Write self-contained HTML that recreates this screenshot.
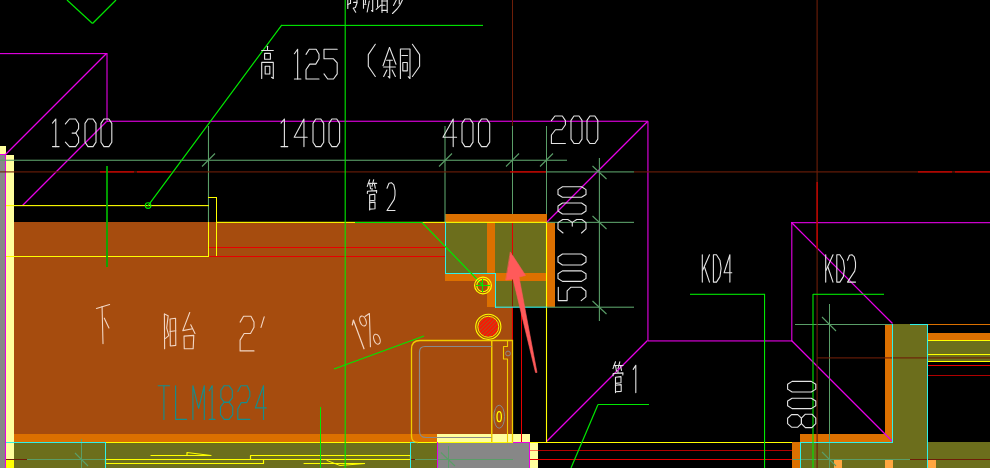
<!DOCTYPE html>
<html><head><meta charset="utf-8"><title>CAD</title>
<style>html,body{margin:0;padding:0;background:#000;width:990px;height:468px;overflow:hidden}
svg{display:block}</style></head>
<body><svg width="990" height="468" viewBox="0 0 990 468">
<rect x="0" y="0" width="990" height="468" fill="#000000"/>
<rect x="14" y="222" width="498" height="212" fill="#a64c0e"/>
<rect x="14" y="434" width="423" height="8" fill="#dc7000"/>
<rect x="437" y="434" width="93" height="8" fill="#ffff9e"/>
<rect x="14" y="442" width="423" height="26" fill="#6c6e1c"/>
<rect x="437" y="442" width="93" height="26" fill="#878787"/>
<rect x="530" y="442" width="8" height="26" fill="#ffff9e"/>
<rect x="0" y="155" width="5" height="313" fill="#878787"/>
<rect x="6" y="155" width="8" height="304" fill="#ffff9e"/>
<rect x="6" y="459" width="8" height="9" fill="#ffff00"/>
<rect x="0" y="146" width="6" height="8" fill="#ffff9e"/>
<rect x="5" y="154" width="1" height="314" fill="#e600e6"/>
<rect x="0" y="154" width="6" height="1" fill="#e600e6"/>
<rect x="445" y="214" width="102" height="8" fill="#dc7000"/>
<rect x="445" y="222" width="42" height="51" fill="#6c6e1c"/>
<rect x="495" y="222" width="52" height="85" fill="#6c6e1c"/>
<rect x="487" y="222" width="8" height="85" fill="#dc7000"/>
<rect x="445" y="273" width="102" height="8" fill="#dc7000"/>
<rect x="547" y="222" width="8" height="85" fill="#dc7000"/>
<rect x="885" y="324" width="8" height="118" fill="#dc7000"/>
<rect x="800" y="434" width="93" height="8" fill="#dc7000"/>
<rect x="893" y="324" width="34" height="144" fill="#6c6e1c"/>
<rect x="800" y="442" width="93" height="26" fill="#6c6e1c"/>
<rect x="792" y="442" width="8" height="26" fill="#dc7000"/>
<rect x="927" y="442" width="63" height="26" fill="#6c6e1c"/>
<rect x="927" y="333" width="63" height="8" fill="#dc7000"/>
<rect x="927" y="341" width="63" height="21" fill="#6c6e1c"/>
<rect x="834" y="460" width="8" height="8" fill="#ffa640"/>
<rect x="885" y="460" width="8" height="8" fill="#ffa640"/>
<rect x="928" y="460" width="8" height="8" fill="#ffa640"/>
<line x1="67" y1="0" x2="92.5" y2="23.5" stroke="#00e800" stroke-width="1.2"/>
<line x1="92.5" y1="23.5" x2="116" y2="0" stroke="#00e800" stroke-width="1.2"/>
<rect x="0" y="53.05" width="107" height="1.1" fill="#e600e6"/>
<rect x="106.45" y="53" width="1.1" height="69" fill="#e600e6"/>
<rect x="107" y="120.7" width="541" height="1.1" fill="#e600e6"/>
<line x1="106.5" y1="53.5" x2="5.5" y2="154.5" stroke="#e600e6" stroke-width="1.2"/>
<line x1="106.5" y1="121.5" x2="22.5" y2="205.5" stroke="#e600e6" stroke-width="1.2"/>
<rect x="647.38" y="121" width="1.1" height="220" fill="#e600e6"/>
<line x1="647.5" y1="121.5" x2="546.5" y2="222.5" stroke="#e600e6" stroke-width="1.2"/>
<rect x="648" y="340.38" width="144" height="1.1" fill="#e600e6"/>
<line x1="647.5" y1="340.5" x2="546.5" y2="441.5" stroke="#e600e6" stroke-width="1.2"/>
<rect x="791.25" y="222" width="1.1" height="119" fill="#e600e6"/>
<rect x="791" y="222.12" width="199" height="1.1" fill="#e600e6"/>
<line x1="791.5" y1="222.5" x2="892.5" y2="323.5" stroke="#e600e6" stroke-width="1.2"/>
<line x1="791.5" y1="340.5" x2="892.5" y2="441.5" stroke="#e600e6" stroke-width="1.2"/>
<rect x="0" y="159.71" width="567" height="1.1" fill="#5a9e68"/>
<rect x="207.93" y="126" width="1.1" height="96" fill="#5a9e68"/>
<rect x="444.45" y="126" width="1.1" height="96" fill="#5a9e68"/>
<rect x="512" y="126" width="1" height="88" fill="#5a9e68"/>
<rect x="546" y="126" width="1" height="88" fill="#5a9e68"/>
<line x1="202" y1="166.5" x2="215" y2="153.5" stroke="#5a9e68" stroke-width="1.1"/>
<line x1="439" y1="166.5" x2="452" y2="153.5" stroke="#5a9e68" stroke-width="1.1"/>
<line x1="506" y1="166.5" x2="519" y2="153.5" stroke="#5a9e68" stroke-width="1.1"/>
<line x1="540" y1="166.5" x2="553" y2="153.5" stroke="#5a9e68" stroke-width="1.1"/>
<rect x="546" y="171.35" width="88" height="1.1" fill="#5a9e68"/>
<rect x="546" y="221.81" width="88" height="1.1" fill="#5a9e68"/>
<rect x="546" y="306.65" width="88" height="1.1" fill="#5a9e68"/>
<rect x="598.85" y="158" width="1.1" height="163" fill="#5a9e68"/>
<line x1="592.5" y1="166" x2="606.5" y2="179" stroke="#5a9e68" stroke-width="1.1"/>
<line x1="592.5" y1="216" x2="606.5" y2="229" stroke="#5a9e68" stroke-width="1.1"/>
<line x1="592.5" y1="301" x2="606.5" y2="314" stroke="#5a9e68" stroke-width="1.1"/>
<rect x="795" y="324" width="98" height="1" fill="#5a9e68"/>
<rect x="829" y="304" width="1" height="164" fill="#5a9e68"/>
<line x1="822" y1="317" x2="836" y2="331" stroke="#5a9e68" stroke-width="1.1"/>
<line x1="822" y1="452" x2="836" y2="466" stroke="#5a9e68" stroke-width="1.1"/>
<rect x="27" y="459" width="79" height="1" fill="#5a9e68"/>
<rect x="6" y="459" width="21" height="1" fill="#6e1e08"/>
<rect x="81" y="439" width="1" height="29" fill="#5a9e68"/>
<line x1="75" y1="453" x2="88" y2="466" stroke="#5a9e68" stroke-width="1.1"/>
<rect x="415" y="459" width="98" height="1" fill="#5a9e68"/>
<rect x="410" y="459" width="5" height="1" fill="#6e1e08"/>
<rect x="448" y="446" width="1" height="22" fill="#5a9e68"/>
<line x1="441" y1="452.5" x2="455" y2="466" stroke="#5a9e68" stroke-width="1.1"/>
<rect x="792" y="459" width="118" height="1" fill="#5a9e68"/>
<rect x="910" y="459" width="80" height="1" fill="#6e1e08"/>
<rect x="0" y="171.35" width="546" height="1.1" fill="#6e1e08"/>
<rect x="100" y="171.35" width="34" height="1.1" fill="#e80000"/>
<rect x="137" y="171.35" width="34" height="1.1" fill="#e80000"/>
<rect x="510" y="171.35" width="36" height="1.1" fill="#e80000"/>
<rect x="634" y="171.35" width="356" height="1.1" fill="#6e1e08"/>
<rect x="918" y="171.35" width="34" height="1.1" fill="#e80000"/>
<rect x="955" y="171.35" width="35" height="1.1" fill="#e80000"/>
<rect x="512" y="0" width="1" height="126" fill="#6e1e08"/>
<rect x="816.55" y="0" width="1.1" height="468" fill="#6e1e08"/>
<rect x="816.55" y="182" width="1.1" height="67" fill="#e80000"/>
<rect x="512" y="222" width="1" height="32" fill="#e80000"/>
<rect x="512" y="254" width="1" height="52" fill="#8a1a00"/>
<rect x="512" y="306" width="1" height="136" fill="#e80000"/>
<rect x="521" y="306" width="1" height="136" fill="#e80000"/>
<rect x="208" y="247" width="237" height="1" fill="#e80000"/>
<rect x="208" y="256" width="237" height="1" fill="#e80000"/>
<rect x="538" y="450" width="254" height="1" fill="#b00000"/>
<rect x="530" y="450" width="8" height="1" fill="#ff7a50"/>
<rect x="530" y="459" width="262" height="1" fill="#e80000"/>
<rect x="817" y="357.35" width="173" height="1.1" fill="#6e1e08"/>
<rect x="927" y="365" width="63" height="1" fill="#e80000"/>
<rect x="927" y="375" width="63" height="1" fill="#b00000"/>
<rect x="927" y="324" width="63" height="1" fill="#dc7000"/>
<rect x="6" y="205.05" width="203" height="1.1" fill="#ffff00"/>
<rect x="208" y="222" width="1" height="34" fill="#ffff00"/>
<rect x="208" y="197" width="9" height="1" fill="#ffff00"/>
<rect x="216" y="197" width="1" height="59" fill="#ffff00"/>
<rect x="216" y="221.81" width="331" height="1.1" fill="#ffff00"/>
<rect x="6" y="256" width="203" height="1" fill="#ffff00"/>
<rect x="545.95" y="222" width="1.1" height="221" fill="#ffff00"/>
<rect x="105" y="442" width="408" height="1" fill="#ffff00"/>
<rect x="530" y="442" width="262" height="1" fill="#ffff00"/>
<rect x="927" y="340" width="63" height="1" fill="#ffff00"/>
<rect x="927" y="354" width="63" height="1" fill="#ffff00"/>
<rect x="927" y="361" width="63" height="1" fill="#ffff00"/>
<polyline points="105.5,459.5 263.5,459.5 263.5,463.5 105.5,463.5 105.5,459.5" fill="none" stroke="#ffff00" stroke-width="1.2" stroke-linejoin="round" stroke-linecap="round"/>
<polyline points="250.5,459.5 250.5,455.5 410.5,455.5 410.5,459.5 250.5,459.5" fill="none" stroke="#ffff00" stroke-width="1.2" stroke-linejoin="round" stroke-linecap="round"/>
<polyline points="151,455.5 211,455.5 187,452.5 187,455.5" fill="none" stroke="#ffff00" stroke-width="1.2" stroke-linejoin="round" stroke-linecap="round"/>
<polyline points="304,463.5 365,463.5 340,465.5 327,460.5" fill="none" stroke="#ffff00" stroke-width="1" stroke-linejoin="round" stroke-linecap="round"/>
<rect x="6" y="442" width="100" height="1" fill="#30f0e8"/>
<rect x="105" y="442" width="1" height="26" fill="#30f0e8"/>
<rect x="445" y="222" width="1" height="52" fill="#30f0e8"/>
<rect x="445" y="273" width="51" height="1" fill="#30f0e8"/>
<rect x="495" y="273" width="1" height="35" fill="#30f0e8"/>
<rect x="495" y="306.65" width="52" height="1.1" fill="#30f0e8"/>
<rect x="410" y="442" width="1" height="26" fill="#30f0e8"/>
<rect x="410" y="442" width="6" height="1" fill="#30f0e8"/>
<rect x="892" y="324" width="1" height="119" fill="#30f0e8"/>
<rect x="927" y="324" width="1" height="144" fill="#30f0e8"/>
<rect x="910" y="324" width="18" height="1" fill="#30f0e8"/>
<rect x="800" y="442" width="93" height="1" fill="#30f0e8"/>
<rect x="800" y="442" width="1" height="26" fill="#30f0e8"/>
<rect x="437" y="442" width="1" height="26" fill="#e600e6"/>
<rect x="513" y="442" width="17" height="1" fill="#e600e6"/>
<rect x="529" y="442" width="1" height="26" fill="#e600e6"/>
<rect x="344.65" y="0" width="1.1" height="468" fill="#00e800"/>
<rect x="281" y="24.85" width="202" height="1.1" fill="#00e800"/>
<polyline points="281.5,25.4 148.1,205.6" fill="none" stroke="#00e800" stroke-width="1.2" stroke-linejoin="round" stroke-linecap="round"/>
<circle cx="148.1" cy="205.6" r="2.8" fill="none" stroke="#00e800" stroke-width="1.1"/>
<rect x="106.12" y="166" width="1.76" height="101" fill="#00b000"/>
<rect x="355" y="222" width="67" height="1" fill="#00e800"/>
<line x1="422" y1="222.5" x2="483" y2="285.5" stroke="#00e800" stroke-width="1.2"/>
<line x1="334" y1="369" x2="424" y2="336" stroke="#00e800" stroke-width="1.2"/>
<rect x="320" y="407" width="1" height="61" fill="#00e800"/>
<rect x="690" y="293.75" width="75" height="1.1" fill="#00e800"/>
<rect x="764" y="294" width="1.1" height="174" fill="#00e800"/>
<rect x="813" y="293.75" width="71" height="1.1" fill="#00e800"/>
<rect x="812.45" y="294" width="1.1" height="174" fill="#00e800"/>
<rect x="598" y="404" width="51" height="1" fill="#00e800"/>
<line x1="598" y1="404.5" x2="571" y2="468" stroke="#00e800" stroke-width="1.2"/>
<circle cx="483" cy="285.5" r="8.4" fill="none" stroke="#ffff00" stroke-width="1.2"/>
<circle cx="483" cy="285.5" r="6.2" fill="none" stroke="#ffff00" stroke-width="1.1"/>
<rect x="476" y="285" width="14" height="1" fill="#00e800"/>
<rect x="482" y="279" width="1" height="13" fill="#00e800"/>
<defs><pattern id="h" width="2.7" height="2.7" patternUnits="userSpaceOnUse" patternTransform="rotate(45)"><rect width="2.7" height="2.7" fill="#ff1400"/><rect width="1.0" height="2.7" fill="#b05020"/></pattern></defs>
<circle cx="488.3" cy="326.8" r="10.2" fill="url(#h)" stroke="none" stroke-width="0"/>
<circle cx="488.3" cy="326.8" r="12.6" fill="none" stroke="#ffff00" stroke-width="1.1"/>
<circle cx="488.3" cy="326.8" r="10.5" fill="none" stroke="#ffff00" stroke-width="0.9"/>
<path d="M418,442.5 Q411.5,442.5 411.5,436 V349 Q411.5,340.5 420,340.5 H512.5 V442" fill="none" stroke="#f0cc00" stroke-width="1.3"/>
<rect x="491" y="341" width="1.5" height="101" fill="#f0cc00"/>
<polyline points="507.5,340.5 507.5,346.5 503.5,346.5 503.5,359 507.5,359 507.5,442" fill="none" stroke="#f0cc00" stroke-width="1.1" stroke-linejoin="round" stroke-linecap="round"/>
<path d="M491.5,437.5 H426 Q419.5,437.5 419.5,431 V352 Q419.5,346.5 425,346.5 H491.5" fill="none" stroke="#8a8a8a" stroke-width="1.2"/>
<circle cx="508" cy="353.5" r="2.4" fill="none" stroke="#8a8a8a" stroke-width="1"/>
<ellipse cx="499.2" cy="416.7" rx="5.3" ry="11.5" fill="none" stroke="#8a8a8a" stroke-width="1"/>
<ellipse cx="499.2" cy="416.7" rx="2.2" ry="5" fill="none" stroke="#ffff00" stroke-width="1.3"/>
<polygon points="510.5,252.2 525.6,275.4 519,277 537,372.5 535.5,372.5 513,279 506,280" fill="#ff5a5a" stroke="#ff5a5a" stroke-width="0.6" stroke-linejoin="round" stroke-linecap="round"/>
<polyline points="347.8,0 347.8,8.5" fill="none" stroke="#e4e4e4" stroke-width="1.1" stroke-linejoin="round" stroke-linecap="round"/>
<polyline points="347.8,4.5 350.5,3.3" fill="none" stroke="#e4e4e4" stroke-width="1.1" stroke-linejoin="round" stroke-linecap="round"/>
<polyline points="350.5,0 350.5,3.5" fill="none" stroke="#e4e4e4" stroke-width="1.1" stroke-linejoin="round" stroke-linecap="round"/>
<polyline points="353.6,2.4 357,2.4 357,0" fill="none" stroke="#e4e4e4" stroke-width="1.1" stroke-linejoin="round" stroke-linecap="round"/>
<polyline points="357,3 355.4,7.5 353.3,8.2" fill="none" stroke="#e4e4e4" stroke-width="1.1" stroke-linejoin="round" stroke-linecap="round"/>
<polyline points="353.3,8.2 355.7,12.2" fill="none" stroke="#e4e4e4" stroke-width="1.1" stroke-linejoin="round" stroke-linecap="round"/>
<polyline points="363.5,0 363.5,8.2" fill="none" stroke="#e4e4e4" stroke-width="1.1" stroke-linejoin="round" stroke-linecap="round"/>
<polyline points="363.5,4.3 366,4.3" fill="none" stroke="#e4e4e4" stroke-width="1.1" stroke-linejoin="round" stroke-linecap="round"/>
<polyline points="365.5,0 365.5,3" fill="none" stroke="#e4e4e4" stroke-width="1.1" stroke-linejoin="round" stroke-linecap="round"/>
<polyline points="369.3,1 367.2,12" fill="none" stroke="#e4e4e4" stroke-width="1.1" stroke-linejoin="round" stroke-linecap="round"/>
<polyline points="372.7,0 372.7,11.5 371.5,10.5" fill="none" stroke="#e4e4e4" stroke-width="1.1" stroke-linejoin="round" stroke-linecap="round"/>
<polyline points="377.6,0 377.6,7" fill="none" stroke="#e4e4e4" stroke-width="1.1" stroke-linejoin="round" stroke-linecap="round"/>
<polyline points="376.2,9.4 380.8,5.2 385,5.2" fill="none" stroke="#e4e4e4" stroke-width="1.1" stroke-linejoin="round" stroke-linecap="round"/>
<polyline points="382,0 382,12.5" fill="none" stroke="#e4e4e4" stroke-width="1.1" stroke-linejoin="round" stroke-linecap="round"/>
<polyline points="387.2,0 387.2,12.5" fill="none" stroke="#e4e4e4" stroke-width="1.1" stroke-linejoin="round" stroke-linecap="round"/>
<polyline points="382,1 387,1" fill="none" stroke="#e4e4e4" stroke-width="1.1" stroke-linejoin="round" stroke-linecap="round"/>
<polyline points="382,10.4 386.8,10.4" fill="none" stroke="#e4e4e4" stroke-width="1.1" stroke-linejoin="round" stroke-linecap="round"/>
<polyline points="396.3,0 393.5,5.5" fill="none" stroke="#e4e4e4" stroke-width="1.1" stroke-linejoin="round" stroke-linecap="round"/>
<polyline points="399.3,0 399.3,4" fill="none" stroke="#e4e4e4" stroke-width="1.1" stroke-linejoin="round" stroke-linecap="round"/>
<polyline points="402.4,0 400,5 397,9 392.5,13.5" fill="none" stroke="#e4e4e4" stroke-width="1.1" stroke-linejoin="round" stroke-linecap="round"/>
<polyline points="267.5,46.3 267.5,49.52" fill="none" stroke="#e4e4e4" stroke-width="1.1" stroke-linejoin="round" stroke-linecap="round"/>
<polyline points="261.7,50.49 273.3,50.49" fill="none" stroke="#e4e4e4" stroke-width="1.1" stroke-linejoin="round" stroke-linecap="round"/>
<polyline points="264.6,53.38 270.4,53.38 270.4,59.18 264.6,59.18 264.6,53.38" fill="none" stroke="#e4e4e4" stroke-width="1.1" stroke-linejoin="round" stroke-linecap="round"/>
<polyline points="261.7,78.5 261.7,62.4 273.3,62.4 273.3,78.5 271.56,77.21" fill="none" stroke="#e4e4e4" stroke-width="1.1" stroke-linejoin="round" stroke-linecap="round"/>
<polyline points="265.18,66.26 269.82,66.26 269.82,73.99 265.18,73.99 265.18,66.26" fill="none" stroke="#e4e4e4" stroke-width="1.1" stroke-linejoin="round" stroke-linecap="round"/>
<polyline points="294.4,53.75 297.65,49.3 297.65,79" fill="none" stroke="#e4e4e4" stroke-width="1.1" stroke-linejoin="round" stroke-linecap="round"/>
<polyline points="294.4,79 300.9,79" fill="none" stroke="#e4e4e4" stroke-width="1.1" stroke-linejoin="round" stroke-linecap="round"/>
<polyline points="306,54.35 309.25,49.3 316.14,49.3 319,54.35 319,58.8 315.75,64.15 309.77,64.15 306,69.79 306,79 319,79" fill="none" stroke="#e4e4e4" stroke-width="1.1" stroke-linejoin="round" stroke-linecap="round"/>
<polyline points="337.2,49.3 324,49.3 324,58.8 333.5,58.8 337.2,62.96 337.2,73.95 333.5,79 327.7,79 324,73.95" fill="none" stroke="#e4e4e4" stroke-width="1.1" stroke-linejoin="round" stroke-linecap="round"/>
<polyline points="375.3,44.3 368.3,54.6 368.3,66.2 375.3,76.5" fill="none" stroke="#e4e4e4" stroke-width="1.1" stroke-linejoin="round" stroke-linecap="round"/>
<polyline points="389.5,47.5 383,65.8" fill="none" stroke="#e4e4e4" stroke-width="1.1" stroke-linejoin="round" stroke-linecap="round"/>
<polyline points="389.5,47.5 396,64.28" fill="none" stroke="#e4e4e4" stroke-width="1.1" stroke-linejoin="round" stroke-linecap="round"/>
<polyline points="386.64,60.31 392.36,60.31" fill="none" stroke="#e4e4e4" stroke-width="1.1" stroke-linejoin="round" stroke-linecap="round"/>
<polyline points="383.65,67.02 395.35,67.02" fill="none" stroke="#e4e4e4" stroke-width="1.1" stroke-linejoin="round" stroke-linecap="round"/>
<polyline points="389.76,60.31 389.76,78 388.2,76.47" fill="none" stroke="#e4e4e4" stroke-width="1.1" stroke-linejoin="round" stroke-linecap="round"/>
<polyline points="386.9,70.07 383.65,76.47" fill="none" stroke="#e4e4e4" stroke-width="1.1" stroke-linejoin="round" stroke-linecap="round"/>
<polyline points="392.1,70.07 395.35,76.47" fill="none" stroke="#e4e4e4" stroke-width="1.1" stroke-linejoin="round" stroke-linecap="round"/>
<polyline points="400.4,78.5 400.4,49 410,49 410,78.5 408.27,76.73" fill="none" stroke="#e4e4e4" stroke-width="1.1" stroke-linejoin="round" stroke-linecap="round"/>
<polyline points="401.84,55.49 407.6,55.49" fill="none" stroke="#e4e4e4" stroke-width="1.1" stroke-linejoin="round" stroke-linecap="round"/>
<polyline points="402.8,62.57 407.31,62.57 407.31,70.83 402.8,70.83 402.8,62.57" fill="none" stroke="#e4e4e4" stroke-width="1.1" stroke-linejoin="round" stroke-linecap="round"/>
<polyline points="412.4,44.3 419.6,54.6 419.6,66.2 412.4,76.5" fill="none" stroke="#e4e4e4" stroke-width="1.1" stroke-linejoin="round" stroke-linecap="round"/>
<polyline points="52.5,123.14 55.8,119 55.8,146.6" fill="none" stroke="#e4e4e4" stroke-width="1.1" stroke-linejoin="round" stroke-linecap="round"/>
<polyline points="52.5,146.6 59.1,146.6" fill="none" stroke="#e4e4e4" stroke-width="1.1" stroke-linejoin="round" stroke-linecap="round"/>
<polyline points="65.4,123.97 69.49,119 75.56,119 78.6,123.69 78.6,128.66 75.83,133.08 72.13,133.08" fill="none" stroke="#e4e4e4" stroke-width="1.1" stroke-linejoin="round" stroke-linecap="round"/>
<polyline points="75.83,133.08 78.6,137.49 78.6,142.46 75.56,146.6 69.49,146.6 65.4,142.18" fill="none" stroke="#e4e4e4" stroke-width="1.1" stroke-linejoin="round" stroke-linecap="round"/>
<polyline points="87.97,119 93.03,119 96,123.42 96,142.18 93.03,146.6 87.97,146.6 85,142.18 85,123.42 87.97,119" fill="none" stroke="#e4e4e4" stroke-width="1.1" stroke-linejoin="round" stroke-linecap="round"/>
<polyline points="103.92,119 108.88,119 111.8,123.42 111.8,142.18 108.88,146.6 103.92,146.6 101,142.18 101,123.42 103.92,119" fill="none" stroke="#e4e4e4" stroke-width="1.1" stroke-linejoin="round" stroke-linecap="round"/>
<polyline points="281,123.14 284.4,119 284.4,146.6" fill="none" stroke="#e4e4e4" stroke-width="1.1" stroke-linejoin="round" stroke-linecap="round"/>
<polyline points="281,146.6 287.8,146.6" fill="none" stroke="#e4e4e4" stroke-width="1.1" stroke-linejoin="round" stroke-linecap="round"/>
<polyline points="307.2,137.22 294.2,137.22 303.95,119 303.95,146.6" fill="none" stroke="#e4e4e4" stroke-width="1.1" stroke-linejoin="round" stroke-linecap="round"/>
<polyline points="315.89,119 320.81,119 323.7,123.42 323.7,142.18 320.81,146.6 315.89,146.6 313,142.18 313,123.42 315.89,119" fill="none" stroke="#e4e4e4" stroke-width="1.1" stroke-linejoin="round" stroke-linecap="round"/>
<polyline points="331.86,119 336.74,119 339.6,123.42 339.6,142.18 336.74,146.6 331.86,146.6 329,142.18 329,123.42 331.86,119" fill="none" stroke="#e4e4e4" stroke-width="1.1" stroke-linejoin="round" stroke-linecap="round"/>
<polyline points="456.6,137.22 443,137.22 453.2,119 453.2,146.6" fill="none" stroke="#e4e4e4" stroke-width="1.1" stroke-linejoin="round" stroke-linecap="round"/>
<polyline points="464.97,119 470.03,119 473,123.42 473,142.18 470.03,146.6 464.97,146.6 462,142.18 462,123.42 464.97,119" fill="none" stroke="#e4e4e4" stroke-width="1.1" stroke-linejoin="round" stroke-linecap="round"/>
<polyline points="481.52,119 486.68,119 489.7,123.42 489.7,142.18 486.68,146.6 481.52,146.6 478.5,142.18 478.5,123.42 481.52,119" fill="none" stroke="#e4e4e4" stroke-width="1.1" stroke-linejoin="round" stroke-linecap="round"/>
<polyline points="551.4,120.67 554.9,116 562.32,116 565.4,120.67 565.4,124.8 561.9,129.75 555.46,129.75 551.4,134.97 551.4,143.5 565.4,143.5" fill="none" stroke="#e4e4e4" stroke-width="1.1" stroke-linejoin="round" stroke-linecap="round"/>
<polyline points="573.97,116 579.03,116 582,120.4 582,139.1 579.03,143.5 573.97,143.5 571,139.1 571,120.4 573.97,116" fill="none" stroke="#e4e4e4" stroke-width="1.1" stroke-linejoin="round" stroke-linecap="round"/>
<polyline points="589.92,116 594.88,116 597.8,120.4 597.8,139.1 594.88,143.5 589.92,143.5 587,139.1 587,120.4 589.92,116" fill="none" stroke="#e4e4e4" stroke-width="1.1" stroke-linejoin="round" stroke-linecap="round"/>
<polyline points="563.04,233 558,228.81 558,222.6 562.76,219.5 567.8,219.5 572.28,222.34 572.28,226.12" fill="none" stroke="#e4e4e4" stroke-width="1.1" stroke-linejoin="round" stroke-linecap="round"/>
<polyline points="572.28,222.34 576.76,219.5 581.8,219.5 586,222.6 586,228.81 581.52,233" fill="none" stroke="#e4e4e4" stroke-width="1.1" stroke-linejoin="round" stroke-linecap="round"/>
<polyline points="558,211.03 558,205.97 562.48,203 581.52,203 586,205.97 586,211.03 581.52,214 562.48,214 558,211.03" fill="none" stroke="#e4e4e4" stroke-width="1.1" stroke-linejoin="round" stroke-linecap="round"/>
<polyline points="558,194.47 558,189.64 562.48,186.8 581.52,186.8 586,189.64 586,194.47 581.52,197.3 562.48,197.3 558,194.47" fill="none" stroke="#e4e4e4" stroke-width="1.1" stroke-linejoin="round" stroke-linecap="round"/>
<polyline points="558.3,287.2 558.3,300.6 567.13,300.6 567.13,290.95 571,287.2 581.21,287.2 585.9,290.95 585.9,296.85 581.21,300.6" fill="none" stroke="#e4e4e4" stroke-width="1.1" stroke-linejoin="round" stroke-linecap="round"/>
<polyline points="558,278.56 558,273.73 562.48,270.9 581.52,270.9 586,273.73 586,278.56 581.52,281.4 562.48,281.4 558,278.56" fill="none" stroke="#e4e4e4" stroke-width="1.1" stroke-linejoin="round" stroke-linecap="round"/>
<polyline points="558,262.03 558,256.97 562.48,254 581.52,254 586,256.97 586,262.03 581.52,265 562.48,265 558,262.03" fill="none" stroke="#e4e4e4" stroke-width="1.1" stroke-linejoin="round" stroke-linecap="round"/>
<polyline points="787.6,423.58 787.6,418.22 791.55,414.6 797.75,414.6 801.42,418.22 801.42,423.58 797.75,427.2 791.55,427.2 787.6,423.58" fill="none" stroke="#e4e4e4" stroke-width="1.1" stroke-linejoin="round" stroke-linecap="round"/>
<polyline points="801.42,423.58 801.42,418.22 805.37,414.2 811.85,414.2 815.8,418.22 815.8,423.58 811.85,427.6 805.37,427.6 801.42,423.58" fill="none" stroke="#e4e4e4" stroke-width="1.1" stroke-linejoin="round" stroke-linecap="round"/>
<polyline points="787.6,405.79 787.6,401.01 792.11,398.2 811.29,398.2 815.8,401.01 815.8,405.79 811.29,408.6 792.11,408.6 787.6,405.79" fill="none" stroke="#e4e4e4" stroke-width="1.1" stroke-linejoin="round" stroke-linecap="round"/>
<polyline points="787.6,389.14 787.6,384.26 792.11,381.4 811.29,381.4 815.8,384.26 815.8,389.14 811.29,392 792.11,392 787.6,389.14" fill="none" stroke="#e4e4e4" stroke-width="1.1" stroke-linejoin="round" stroke-linecap="round"/>
<polyline points="369.65,179.7 367.3,186.37" fill="none" stroke="#e4e4e4" stroke-width="1.1" stroke-linejoin="round" stroke-linecap="round"/>
<polyline points="368.24,183.34 371.53,183.34" fill="none" stroke="#e4e4e4" stroke-width="1.1" stroke-linejoin="round" stroke-linecap="round"/>
<polyline points="369.65,183.34 370.59,188.79" fill="none" stroke="#e4e4e4" stroke-width="1.1" stroke-linejoin="round" stroke-linecap="round"/>
<polyline points="373.69,179.7 372,186.37" fill="none" stroke="#e4e4e4" stroke-width="1.1" stroke-linejoin="round" stroke-linecap="round"/>
<polyline points="372.47,183.34 376.7,183.34" fill="none" stroke="#e4e4e4" stroke-width="1.1" stroke-linejoin="round" stroke-linecap="round"/>
<polyline points="374.35,183.34 375.29,188.18" fill="none" stroke="#e4e4e4" stroke-width="1.1" stroke-linejoin="round" stroke-linecap="round"/>
<polyline points="372,188.49 372,190.3" fill="none" stroke="#e4e4e4" stroke-width="1.1" stroke-linejoin="round" stroke-linecap="round"/>
<polyline points="367.3,193.33 367.49,191.21 376.7,190.61 376.51,192.73" fill="none" stroke="#e4e4e4" stroke-width="1.1" stroke-linejoin="round" stroke-linecap="round"/>
<polyline points="369.65,210 369.65,194.85 374.82,194.24 374.82,200.3 369.65,200.91" fill="none" stroke="#e4e4e4" stroke-width="1.1" stroke-linejoin="round" stroke-linecap="round"/>
<polyline points="369.65,202.73 375.01,202.12 375.01,208.79 369.65,209.09" fill="none" stroke="#e4e4e4" stroke-width="1.1" stroke-linejoin="round" stroke-linecap="round"/>
<polyline points="387,188.26 389,183.26 391.4,182.7 393.8,184.92 395,190.48 395,195.21 394.2,199.38 387,210.5 395,210.5" fill="none" stroke="#e4e4e4" stroke-width="1.1" stroke-linejoin="round" stroke-linecap="round"/>
<polyline points="615.5,361.8 613,368.58" fill="none" stroke="#e4e4e4" stroke-width="1.1" stroke-linejoin="round" stroke-linecap="round"/>
<polyline points="614,365.5 617.5,365.5" fill="none" stroke="#e4e4e4" stroke-width="1.1" stroke-linejoin="round" stroke-linecap="round"/>
<polyline points="615.5,365.5 616.5,371.04" fill="none" stroke="#e4e4e4" stroke-width="1.1" stroke-linejoin="round" stroke-linecap="round"/>
<polyline points="619.8,361.8 618,368.58" fill="none" stroke="#e4e4e4" stroke-width="1.1" stroke-linejoin="round" stroke-linecap="round"/>
<polyline points="618.5,365.5 623,365.5" fill="none" stroke="#e4e4e4" stroke-width="1.1" stroke-linejoin="round" stroke-linecap="round"/>
<polyline points="620.5,365.5 621.5,370.42" fill="none" stroke="#e4e4e4" stroke-width="1.1" stroke-linejoin="round" stroke-linecap="round"/>
<polyline points="618,370.73 618,372.58" fill="none" stroke="#e4e4e4" stroke-width="1.1" stroke-linejoin="round" stroke-linecap="round"/>
<polyline points="613,375.66 613.2,373.5 623,372.89 622.8,375.04" fill="none" stroke="#e4e4e4" stroke-width="1.1" stroke-linejoin="round" stroke-linecap="round"/>
<polyline points="615.5,392.6 615.5,377.2 621,376.58 621,382.74 615.5,383.36" fill="none" stroke="#e4e4e4" stroke-width="1.1" stroke-linejoin="round" stroke-linecap="round"/>
<polyline points="615.5,385.21 621.2,384.59 621.2,391.37 615.5,391.68" fill="none" stroke="#e4e4e4" stroke-width="1.1" stroke-linejoin="round" stroke-linecap="round"/>
<polyline points="633.2,369.4 635.8,365.3 635.8,392.6" fill="none" stroke="#e4e4e4" stroke-width="1.1" stroke-linejoin="round" stroke-linecap="round"/>
<polyline points="702.3,254.7 702.3,282.1" fill="none" stroke="#e4e4e4" stroke-width="1.1" stroke-linejoin="round" stroke-linecap="round"/>
<polyline points="709.5,254.7 702.66,270.32" fill="none" stroke="#e4e4e4" stroke-width="1.1" stroke-linejoin="round" stroke-linecap="round"/>
<polyline points="704.46,267.03 709.5,282.1" fill="none" stroke="#e4e4e4" stroke-width="1.1" stroke-linejoin="round" stroke-linecap="round"/>
<polyline points="713.4,254.7 713.4,282.1 716.48,282.1 719.94,276.62 721.1,268.4 719.94,260.18 716.48,254.7 713.4,254.7" fill="none" stroke="#e4e4e4" stroke-width="1.1" stroke-linejoin="round" stroke-linecap="round"/>
<polyline points="731.8,272.78 724.1,272.78 729.88,254.7 729.88,282.1" fill="none" stroke="#e4e4e4" stroke-width="1.1" stroke-linejoin="round" stroke-linecap="round"/>
<polyline points="825.7,254.7 825.7,282.1" fill="none" stroke="#e4e4e4" stroke-width="1.1" stroke-linejoin="round" stroke-linecap="round"/>
<polyline points="833,254.7 826.07,270.32" fill="none" stroke="#e4e4e4" stroke-width="1.1" stroke-linejoin="round" stroke-linecap="round"/>
<polyline points="827.89,267.03 833,282.1" fill="none" stroke="#e4e4e4" stroke-width="1.1" stroke-linejoin="round" stroke-linecap="round"/>
<polyline points="836.8,254.7 836.8,282.1 839.88,282.1 843.34,276.62 844.5,268.4 843.34,260.18 839.88,254.7 836.8,254.7" fill="none" stroke="#e4e4e4" stroke-width="1.1" stroke-linejoin="round" stroke-linecap="round"/>
<polyline points="847.5,260.18 849.5,255.25 851.9,254.7 854.3,256.89 855.5,262.37 855.5,267.03 854.7,271.14 847.5,282.1 855.5,282.1" fill="none" stroke="#e4e4e4" stroke-width="1.1" stroke-linejoin="round" stroke-linecap="round"/>
<polyline points="96.4,308.41 109.6,304.5" fill="none" stroke="#f2d6c4" stroke-width="1.1" stroke-linejoin="round" stroke-linecap="round"/>
<polyline points="102.08,306.45 103,343.6" fill="none" stroke="#f2d6c4" stroke-width="1.1" stroke-linejoin="round" stroke-linecap="round"/>
<polyline points="104.32,318.19 108.94,327.96" fill="none" stroke="#f2d6c4" stroke-width="1.1" stroke-linejoin="round" stroke-linecap="round"/>
<polyline points="164.4,314.1 164.63,348.8" fill="none" stroke="#f2d6c4" stroke-width="1.1" stroke-linejoin="round" stroke-linecap="round"/>
<polyline points="164.4,314.1 168.16,315.84 166.68,327.98 168.73,335.61 165.54,338.39" fill="none" stroke="#f2d6c4" stroke-width="1.1" stroke-linejoin="round" stroke-linecap="round"/>
<polyline points="170.1,318.96 175.57,318.26 175.8,345.33 170.33,346.02 170.1,318.96" fill="none" stroke="#f2d6c4" stroke-width="1.1" stroke-linejoin="round" stroke-linecap="round"/>
<polyline points="170.1,331.45 175.8,330.76" fill="none" stroke="#f2d6c4" stroke-width="1.1" stroke-linejoin="round" stroke-linecap="round"/>
<polyline points="189.75,312.5 182.8,330.65 192.56,328.83" fill="none" stroke="#f2d6c4" stroke-width="1.1" stroke-linejoin="round" stroke-linecap="round"/>
<polyline points="190.73,324.84 195,333.55" fill="none" stroke="#f2d6c4" stroke-width="1.1" stroke-linejoin="round" stroke-linecap="round"/>
<polyline points="184.02,336.1 193.78,335.37 193.17,348.8 184.26,348.8 184.02,336.1" fill="none" stroke="#f2d6c4" stroke-width="1.1" stroke-linejoin="round" stroke-linecap="round"/>
<polyline points="240.1,322.1 243.57,316.2 250.94,316.2 254,322.1 254,327.3 250.53,333.55 244.13,333.55 240.1,340.14 240.1,350.9 254,350.9" fill="none" stroke="#f2d6c4" stroke-width="1.1" stroke-linejoin="round" stroke-linecap="round"/>
<polyline points="264.2,316.8 261,327.4" fill="none" stroke="#f2d6c4" stroke-width="1.1" stroke-linejoin="round" stroke-linecap="round"/>
<polyline points="352.3,325 353.4,320 364,348.8" fill="none" stroke="#f2d6c4" stroke-width="1.2" stroke-linejoin="round" stroke-linecap="round"/>
<ellipse cx="363" cy="321" rx="3" ry="5.2" transform="rotate(-20 363 321)" fill="none" stroke="#f2d6c4" stroke-width="1.1"/>
<ellipse cx="376.9" cy="339.2" rx="3" ry="5.2" transform="rotate(-20 376.9 339.2)" fill="none" stroke="#f2d6c4" stroke-width="1.1"/>
<polyline points="365,316.5 369.4,313.5 370.4,346.7" fill="none" stroke="#f2d6c4" stroke-width="1.1" stroke-linejoin="round" stroke-linecap="round"/>
<polyline points="158.2,385.7 169.6,385.7" fill="none" stroke="#148e8e" stroke-width="1.15" stroke-linejoin="round" stroke-linecap="round"/>
<polyline points="163.9,385.7 163.9,419.4" fill="none" stroke="#148e8e" stroke-width="1.15" stroke-linejoin="round" stroke-linecap="round"/>
<polyline points="175.6,385.7 175.6,419.4 186.6,419.4" fill="none" stroke="#148e8e" stroke-width="1.15" stroke-linejoin="round" stroke-linecap="round"/>
<polyline points="192.9,419.4 192.9,385.7 198.6,408.28 204.3,385.7 204.3,419.4" fill="none" stroke="#148e8e" stroke-width="1.15" stroke-linejoin="round" stroke-linecap="round"/>
<polyline points="209.3,390.75 212.15,385.7 212.15,419.4" fill="none" stroke="#148e8e" stroke-width="1.15" stroke-linejoin="round" stroke-linecap="round"/>
<polyline points="209.3,419.4 215,419.4" fill="none" stroke="#148e8e" stroke-width="1.15" stroke-linejoin="round" stroke-linecap="round"/>
<polyline points="224.16,385.7 229.04,385.7 232.33,390.42 232.33,397.83 229.04,402.21 224.16,402.21 220.87,397.83 220.87,390.42 224.16,385.7" fill="none" stroke="#148e8e" stroke-width="1.15" stroke-linejoin="round" stroke-linecap="round"/>
<polyline points="224.16,402.21 229.04,402.21 232.7,406.93 232.7,414.68 229.04,419.4 224.16,419.4 220.5,414.68 220.5,406.93 224.16,402.21" fill="none" stroke="#148e8e" stroke-width="1.15" stroke-linejoin="round" stroke-linecap="round"/>
<polyline points="237.8,391.43 240.8,385.7 247.16,385.7 249.8,391.43 249.8,396.48 246.8,402.55 241.28,402.55 237.8,408.95 237.8,419.4 249.8,419.4" fill="none" stroke="#148e8e" stroke-width="1.15" stroke-linejoin="round" stroke-linecap="round"/>
<polyline points="266.2,407.94 255.4,407.94 263.5,385.7 263.5,419.4" fill="none" stroke="#148e8e" stroke-width="1.15" stroke-linejoin="round" stroke-linecap="round"/>
</svg></body></html>
